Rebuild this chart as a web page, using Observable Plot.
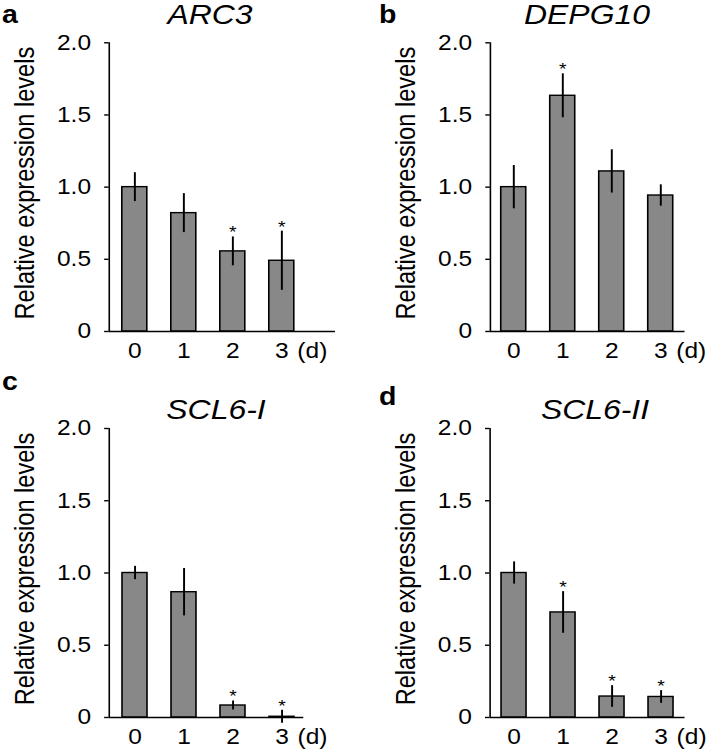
<!DOCTYPE html>
<html><head><meta charset="utf-8">
<script src="https://cdn.jsdelivr.net/npm/d3@7"></script>
<script src="https://cdn.jsdelivr.net/npm/@observablehq/plot@0.6"></script>
<style>
html,body{margin:0;padding:0;background:#fff;}
#stage{position:absolute;left:0;top:0;height:754px;transform-origin:0 0;font-family:"Liberation Sans",Arial,sans-serif;color:#000;}
.panel{position:absolute;}
.letter{position:absolute;font-weight:bold;font-size:25px;line-height:25px;white-space:nowrap;}
.title{position:absolute;font-style:italic;font-size:28px;line-height:28px;white-space:nowrap;transform:translateX(-50%);}
</style></head><body><div id="stage"></div>
<script>
// ---- data ----
const days = [0, 1, 2, 3];
const genes = ["ARC3", "DEPG10", "SCL6-I", "SCL6-II"];
const letters = ["a", "b", "c", "d"];
const arc3Mean = [1.00, 0.82, 0.555, 0.49];
const arc3Err = [0.10, 0.135, 0.10, 0.205];
const arc3Sig = [false, false, true, true];
const depg10Mean = [1.00, 1.633, 1.109, 0.942];
const depg10Err = [0.15, 0.152, 0.15, 0.074];
const depg10Sig = [false, true, false, false];
const scl6iMean = [1.00, 0.867, 0.083, 0.005];
const scl6iErr = [0.046, 0.164, 0.031, 0.045];
const scl6iSig = [false, false, true, true];
const scl6iiMean = [1.00, 0.727, 0.145, 0.142];
const scl6iiErr = [0.077, 0.144, 0.075, 0.044];
const scl6iiSig = [false, true, true, true];
const yTicks = [0, 0.5, 1.0, 1.5, 2.0];
const yTickLabels = ["0", "0.5", "1.0", "1.5", "2.0"];
const yLabel = "Relative expression levels";
const unitLabel = "(d)";
const sigMark = "*";

const means = [arc3Mean, depg10Mean, scl6iMean, scl6iiMean];
const errs = [arc3Err, depg10Err, scl6iErr, scl6iiErr];
const sigs = [arc3Sig, depg10Sig, scl6iSig, scl6iiSig];

// ---- layout (page pixels) ----
const S = 1.14;          // horizontal stretch of the figure
const STEP = 49;         // px between bar centres
const HW = 12.5 / STEP;  // bar half width in day units
const FS = 21.5;
const LFS = 23.6;
const layout = [
  {left: 0,   top: 0,   w: 354, h: 377, axis: 108.7, c0: 134.3, end: 335,   fTop: 42.3, fBot: 331, lx: 2,   lb: 23,  tx: 210, tb: 25},
  {left: 354, top: 0,   w: 355, h: 377, axis: 489.3, c0: 512.7, end: 684,   fTop: 42.3, fBot: 331, lx: 379, lb: 23,  tx: 587, tb: 25},
  {left: 0,   top: 377, w: 354, h: 377, axis: 108.7, c0: 134.5, end: 303.3, fTop: 428,  fBot: 717, lx: 2,   lb: 390, tx: 216, tb: 420},
  {left: 354, top: 377, w: 355, h: 377, axis: 489,   c0: 513,   end: 684,   fTop: 428,  fBot: 717, lx: 379, lb: 405, tx: 595, tb: 420}
];

const stage = document.getElementById("stage");
stage.style.width = (709 / S) + "px";
stage.style.transform = `scale(${S},1)`;

genes.forEach((gene, gi) => {
  const L = layout[gi];
  const rows = days.map((d, i) => ({day: d, mean: means[gi][i], err: errs[gi][i], sig: sigs[gi][i]}));
  const x0 = (L.axis - L.c0) / STEP;
  const x1 = (L.end - L.c0) / STEP;
  const chart = Plot.plot({
    width: L.w / S,
    height: L.h,
    marginLeft: (L.axis - L.left) / S,
    marginRight: (L.left + L.w - L.end) / S,
    marginTop: L.fTop - L.top,
    marginBottom: L.top + L.h - L.fBot,
    style: {fontFamily: "Liberation Sans, Arial, sans-serif", fontSize: FS + "px", background: "transparent", color: "#000", overflow: "visible"},
    x: {domain: [x0, x1]},
    y: {domain: [0, 2]},
    marks: [
      Plot.rectY(rows, {x1: d => d.day - HW, x2: d => d.day + HW, y1: 0, y2: "mean", fill: "#888888", stroke: "#000", strokeWidth: 1.4}),
      Plot.ruleX(rows, {x: "day", y1: d => d.mean - d.err, y2: d => d.mean + d.err, stroke: "#000", strokeWidth: 1.7}),
      Plot.text(rows.filter(d => d.sig), {x: "day", y: d => d.mean + d.err, text: () => sigMark, fontSize: 17, dy: -4, lineAnchor: "middle"}),
      Plot.ruleY([0], {stroke: "#000", strokeWidth: 1.5}),
      Plot.ruleX([x0], {stroke: "#000", strokeWidth: 1.4}),
      Plot.axisY({ticks: yTicks, tickFormat: d => yTickLabels[yTicks.indexOf(d)], tickSize: 4, tickPadding: 12, label: null, fontSize: FS, strokeWidth: 1.4}),
      Plot.axisX({ticks: days, tickFormat: d => String(d), tickSize: 0, tickPadding: 11, label: null, fontSize: FS}),
      Plot.text([unitLabel], {x: () => days[days.length - 1], frameAnchor: "bottom", text: d => d, dx: 13.6, dy: 11, textAnchor: "start", lineAnchor: "top", fontSize: FS}),
      Plot.text([yLabel], {frameAnchor: "left", text: d => d, rotate: -90, dx: -73.4, dy: -4, textAnchor: "middle", lineAnchor: "middle", fontSize: LFS})
    ]
  });
  chart.classList.add("panel");
  chart.style.left = (L.left / S) + "px";
  chart.style.top = L.top + "px";
  chart.style.maxWidth = "none";
  stage.appendChild(chart);

  const lt = document.createElement("div");
  lt.className = "letter";
  lt.textContent = letters[gi];
  lt.style.left = (L.lx / S) + "px";
  lt.style.top = (L.lb - 0.8465 * 25) + "px";
  stage.appendChild(lt);

  const tt = document.createElement("div");
  tt.className = "title";
  tt.textContent = gene;
  tt.style.left = (L.tx / S) + "px";
  tt.style.top = (L.tb - 0.8465 * 28) + "px";
  stage.appendChild(tt);
});
</script>
</body></html>
